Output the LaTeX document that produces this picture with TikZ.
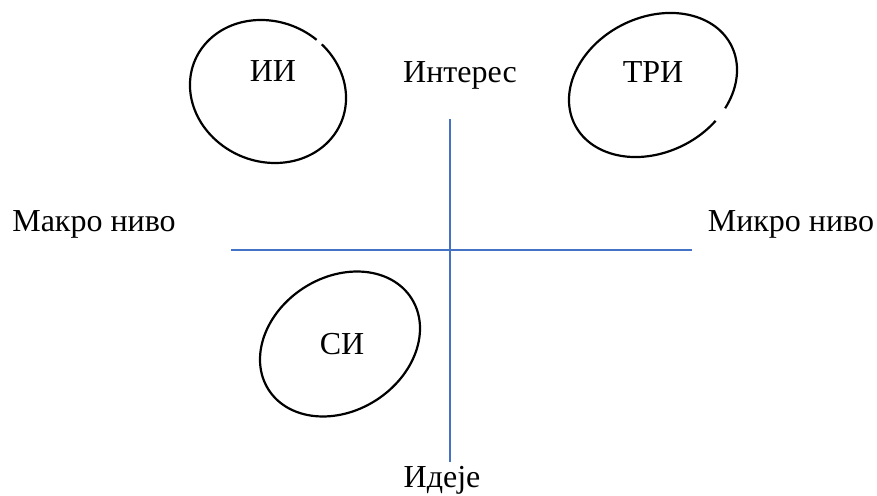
\documentclass[tikz,border=0pt]{standalone}
\usepackage{fontspec}
\setmainfont{Liberation Serif}
\usetikzlibrary{calc}
\definecolor{axisblue}{HTML}{4472C4}
\begin{document}
\begin{tikzpicture}[x=1pt,y=1pt,
  ell/.style={line width=2.2pt, black},
  axisline/.style={line width=1.2pt, axisblue},
  lbl/.style={anchor=base, inner sep=0pt, font=\fontsize{32}{38}\selectfont}]
\useasboundingbox (0,0) rectangle (877,495);
% ellipses
\draw[ell, rotate around={-23:(268,403.5)}] ($(268,403.5)+(72:79.4pt and 70pt)$) arc[start angle=72, end angle=427, x radius=79.4pt, y radius=70pt];
\draw[ell, rotate around={26.7:(653,410)}] ($(653,410)+(-52:87.7pt and 67.5pt)$) arc[start angle=-52, end angle=297, x radius=87.7pt, y radius=67.5pt];
\draw[ell, rotate around={32.6:(340,151)}] (340,151) ellipse[x radius=84.8pt, y radius=66.8pt];
% axes
\coordinate (vtop) at (450,376);
\coordinate (vbot) at (450,33);
\coordinate (hleft) at (231,245);
\coordinate (hright) at (692,245);
\draw[axisline] (vtop) -- (vbot);
\draw[axisline] (hleft) -- (hright);
% labels
\node[lbl] (makro) at (94,263) {Макро ниво};
\node[lbl] (mikro) at (791,263) {Микро ниво};
\node[lbl] (ideje) at (442,8) {Идеје};
\node[lbl] (interes) at (460,412) {Интерес};
\node[lbl] (ii) at (273,413) {ИИ};
\node[lbl] (tri) at (653,412) {ТРИ};
\node[lbl] (si) at (342,140) {СИ};
\end{tikzpicture}
\end{document}
